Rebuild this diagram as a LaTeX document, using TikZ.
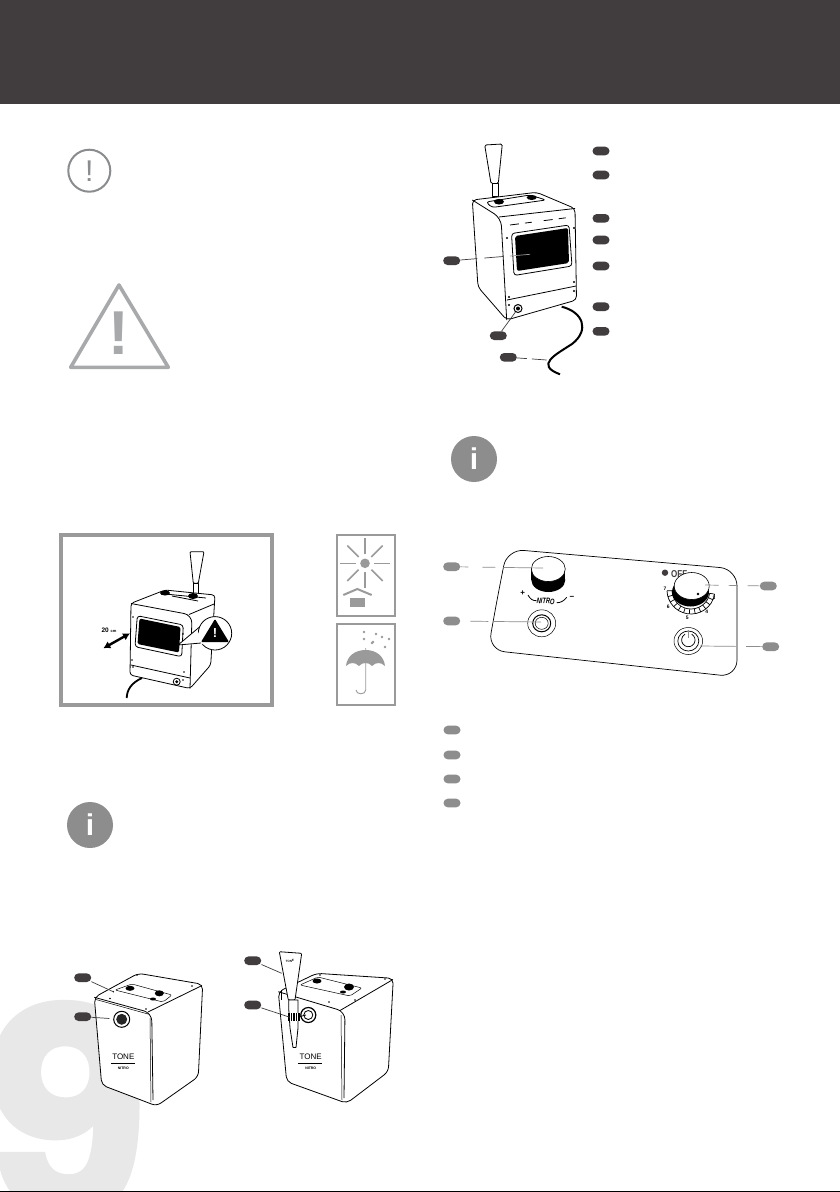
\documentclass[tikz,border=0pt]{standalone}
\usepackage{fontspec}
\usetikzlibrary{arrows.meta}
\setmainfont{Liberation Sans}
\newfontfamily\bigf{Poppins}[BoldFeatures={FakeBold=1.6}]
\definecolor{hdr}{HTML}{413D3E}
\definecolor{gbadge}{HTML}{8E8D8E}
\definecolor{ggray}{HTML}{9A9A9B}
\definecolor{tri}{HTML}{A7A9AB}
\definecolor{ring}{HTML}{8A8C8E}
\definecolor{nine}{HTML}{E8E8E9}
\tikzset{
 pill/.style={rounded corners=4.3pt,fill=#1,draw=none,minimum width=17pt,minimum height=8.6pt,inner sep=0pt},
 leader/.style={line width=.7pt,draw=#1},
 line/.style={line width=.8pt,line join=round,black},
 thin line/.style={line width=.5pt,black},
 lbl/.style={inner sep=0pt,font=\bfseries},
 scalenum/.style={inner sep=0pt,font=\bfseries\fontsize{5}{5}\selectfont}
}
\begin{document}
\begin{tikzpicture}[x=1pt,y=-1pt]
\useasboundingbox (0,0) rectangle (840,1192);
\fill[white] (0,0) rectangle (840,1192);
\fill[hdr] (0,0) rectangle (840,104);
% big page number
\begin{scope}
\clip (0,0) rectangle (840,1192);
\node[inner sep=0pt,anchor=center,text=nine,xscale=.97,font={\bigf\bfseries\fontsize{285}{285}\selectfont}] (pagenum) at (65,1109) {9};
\end{scope}
\fill[black] (0,1191) rectangle (840,1192);
% notice icon
\draw[ring,line width=2pt] (89.3,170.7) circle (21);
\node[text=ring,font=\fontsize{30}{30}\selectfont,inner sep=0pt] (ex1) at (89.3,171) {!};
% warning triangle
\draw[tri,line width=3.6pt,line join=round] (119,285) -- (168.3,367.3) -- (70.7,367.3) -- cycle;
\node[text=tri,font=\bfseries\fontsize{62}{62}\selectfont,inner sep=0pt] (ex2) at (119,333) {!};
% info icons
\foreach \n/\x/\y in {i1/90/825,i2/474/459}{
 \node[circle,fill=gbadge,minimum size=46pt,inner sep=0pt,text=white,font=\bfseries\fontsize{30}{30}\selectfont] (\n) at (\x,\y) {i};
}
% ---- top machine
\draw[line,fill=white,rounded corners=1.5pt] (484.7,145) -- (502.3,144) -- (498.3,183.5) -- (491,183.5) -- cycle;
\draw[line,fill=white] (492,183.5) rectangle (498,196);
\draw[line,fill=white,rounded corners=4pt] (472.3,200) -- (536.7,192.3) -- (575,208.5) -- (576.5,300) -- (506.7,320) -- (478,287) -- cycle;
\draw[line,rounded corners=8pt] (472.3,200) -- (501,218) -- (506.7,320);
\draw[line] (499,217) -- (575,208.5);
\draw[line,dash pattern=on 9pt off 6pt on 7pt off 12pt] (510,225) -- (576,216.5);
\draw[line,fill=white,rounded corners=3pt] (486,202) -- (530,195) -- (546,200) -- (492,207.5) -- cycle;
\fill (499,201.7) ellipse (5 and 2.8);
\fill (531.7,197.5) ellipse (5 and 2.5);
\draw[line,fill=white,rounded corners=3pt] (511.5,233.5) -- (569,225) -- (572,266) -- (514,275.5) -- cycle;
\fill[black,rounded corners=2pt] (515,236) -- (568,228) -- (569,263) -- (517,271) -- cycle;
\draw[line] (507,300) -- (576,286);
\foreach \p in {(507,238),(574,228),(574,282),(509,297),(574,291),(509,305)} \fill \p circle (1.2);
\node[circle,draw=black,line width=1pt,fill=white,minimum size=8pt,inner sep=0pt] (k1) at (518,308.5) {};
\fill[black] (k1) circle (2);
\coordinate (cableEnd) at (546.7,360);
\draw[line width=2pt] (561.7,306.7) .. controls (583,312) and (590,330) .. (572,344) .. controls (555,355) and (535,365) .. (560,374.3);
% top right badges
\foreach \n/\y in {a1/151,a2/175,a3/218.3,a4/240,a5/266,a6/306.7,a7/331.3}{
 \node[pill=hdr] (\n) at (601,\y) {};
}
\node[pill=hdr] (a8) at (451.7,260.7) {};
\node[pill=hdr] (a9) at (498.3,335.7) {};
\node[pill=hdr] (a10) at (508.3,357.3) {};
\coordinate (ta8) at (530,254.3);
\coordinate (ta8b) at (510,256);
\draw[leader=hdr,dash pattern=on 17pt off 7pt on 19pt off 30pt] (a8) -- (ta8);
\draw[leader=ggray] (ta8b) -- (ta8);
\draw[leader=hdr] (a9) -- (k1);
\draw[leader=hdr,dash pattern=on 10pt off 5pt on 20pt] (a10) -- (cableEnd);
% ---- control panel
\draw[line width=.7pt,rounded corners=17pt] (497,600) -- (507,549) -- (737,569) -- (737,677) -- (488,650) -- cycle;
% nitro knob
\fill[black] (548.3,580) ellipse (17 and 12);
\fill[black] (531.3,569) rectangle (565.3,580);
\draw[line width=.6pt,fill=white] (548.3,569) ellipse (17 and 12.5);
\node[lbl,font=\bfseries\fontsize{8}{8}\selectfont] (plus) at (522.7,593.3) {+};
\node[lbl,font=\bfseries\itshape\fontsize{8}{8}\selectfont,rotate=-4,xscale=.72] (nitro) at (545.7,601) {NITRO};
\node[lbl,font=\bfseries\fontsize{8}{8}\selectfont] (minus) at (572,598) {−};
\draw[line] (528,595) .. controls (530,599) and (533,601) .. (536.7,600.7);
\draw[line] (556.7,602.7) .. controls (560,603) and (564,601) .. (566.7,597.3);
% left button
\draw[line width=.5pt] (541.7,623.3) ellipse (14 and 13.5);
\draw[line width=1pt,fill=white] (541.7,623.3) ellipse (9 and 8.5);
\draw[line width=.5pt] (541.7,623.3) ellipse (6.5 and 6);
% temperature knob scale
\foreach \a in {10,24,...,178}{
 \draw[line width=.7pt] (691,590) ++(\a:19) -- ++(\a:5);
}
\draw[line width=.7pt] (691,590) ++(10:24) arc[start angle=10,end angle=178,radius=24];
\draw[line width=.7pt] (691,590) ++(10:19) arc[start angle=10,end angle=178,radius=19];
\fill[black] (690.5,592) ellipse (18.5 and 14.5);
\node[scalenum] (n7) at (665,589) {7};
\node[scalenum] (n6) at (668.3,607) {6};
\node[scalenum] (n5) at (687.3,617.3) {5};
\node[scalenum] (n4) at (706.7,611.7) {4};
\node[scalenum] (n3) at (714,597.3) {3};
\fill[hdr] (665,572.7) circle (3.2);
\node[lbl,font=\bfseries\fontsize{10}{10}\selectfont,text=hdr,anchor=west,xscale=.8] (off) at (671,574.3) {OFF};
\draw[line width=.6pt,fill=white] (691.7,586) ellipse (17.5 and 13.5);
\fill[black] (698,594) circle (1.4);
% power button
\draw[line width=.5pt] (688.3,641) ellipse (14.3 and 13.5);
\draw[line width=.7pt] (688.3,641) ellipse (10.5 and 10);
\draw[line width=.7pt] (691.7,634.2) arc[start angle=300,end angle=600,radius=6.7];
\draw[line width=1.1pt,gbadge] (688.3,630) -- (688.3,638);
% panel badges
\node[pill=gbadge] (c1) at (451.7,566.7) {};
\node[pill=gbadge] (c2) at (451.7,621) {};
\node[pill=gbadge] (c3) at (768.3,586) {};
\node[pill=gbadge] (c4) at (770.7,646.7) {};
\coordinate (tc1) at (543,568);
\coordinate (tc2) at (541,622);
\coordinate (tc3) at (705,585);
\coordinate (tc4) at (700,646);
\draw[leader=gbadge,dash pattern=on 8pt off 14pt on 13pt off 8pt on 50pt] (c1) -- (tc1);
\draw[leader=gbadge,dash pattern=on 0pt off 10pt on 18pt off 5pt on 50pt] (c2) -- (tc2);
\draw[leader=gbadge,dash pattern=on 12pt off 10pt on 9pt off 10pt on 20pt] (c3) -- (tc3);
\draw[leader=gbadge,dash pattern=on 16pt off 10pt on 40pt] (c4) -- (tc4);
\foreach \n/\y in {l1/730,l2/755,l3/779,l4/803}{
 \node[pill=gbadge] (\n) at (452,\y) {};
}
% ---- install frame
\draw[ggray,line width=4pt] (61,535) rectangle (272,705);
\draw[line,fill=white,rounded corners=1pt] (190,551.7) -- (204,551.7) -- (198.3,583.3) -- (193.3,583.3) -- cycle;
\draw[line,fill=white] (193.5,583.3) rectangle (198,593);
\draw[line,fill=white,rounded corners=3pt] (131,603.3) -- (165,590) -- (215,595) -- (210.7,665) -- (190,688.5) -- (130,675) -- cycle;
\draw[line,rounded corners=8pt] (131,603.5) -- (192,615) -- (190,688.5);
\draw[line] (189,614.5) -- (214,604);
\draw[line] (165,594) -- (206,598);
\draw[line] (172,596) -- (198,601);
\fill (165,593) ellipse (5 and 2.5);
\fill (193,596) ellipse (5 and 3);
\draw[line,fill=white,rounded corners=3pt] (137.3,615.7) -- (183.3,625) -- (181.7,656.7) -- (135,646.7) -- cycle;
\fill[black,rounded corners=1.5pt] (139.5,618.5) -- (180.5,627) -- (179,652.5) -- (137.5,644) -- cycle;
\draw[line] (131,665) -- (190,678);
\foreach \p in {(133,617),(183,634),(132,660),(133,667),(184,672),(183,680)} \fill \p circle (.8);
\draw[line width=1.8pt] (142,678) .. controls (131,683) and (127,690) .. (126.7,698);
\node[circle,draw=black,line width=.8pt,minimum size=7pt,inner sep=0pt] (k2) at (176.7,681.7) {};
\fill[black] (k2) circle (1.6);
% callout
\draw[line width=.8pt,fill=white] (215,633.3) circle (16.7);
\fill[white] (197,629) -- (178,645) -- (203,644) -- cycle;
\draw[line width=.8pt] (199.5,627) -- (178,645) -- (201,643);
\fill[black,rounded corners=1pt] (215,619) -- (229,642) -- (201,642) -- cycle;
\node[text=white,lbl,font=\bfseries\fontsize{13}{13}\selectfont] (ex3) at (215,633) {!};
% distance arrow
\coordinate (da) at (103.3,648.3);
\coordinate (db) at (130,633.3);
\draw[black,line width=2.4pt,{Latex[length=7pt,width=8pt]}-{Latex[length=7pt,width=8pt]}] (da) -- (db);
\node[lbl,font=\bfseries\fontsize{6.5}{6.5}\selectfont] (dist) at (109,630.7) {20 \fontsize{4}{4}\selectfont cm};
% sun icon
\draw[ggray,line width=2pt] (337,535) rectangle (395,615.7);
\fill[ggray] (365,563.3) circle (4.8);
\foreach \a in {0,45,...,315}{
 \draw[ggray,line width=1.6pt] (365,563.3) ++(\a:9) -- ++(\a:16);
}
\draw[ggray,line width=2pt] (343.3,595) -- (357.3,589) -- (371.7,595);
\fill[ggray] (350,597.7) rectangle (365,606.7);
% umbrella icon
\draw[ggray,line width=2pt] (337,623.5) rectangle (395,705);
\fill[ggray] (346,666) .. controls (347,656) and (355,650) .. (365.7,650) .. controls (376,650) and (384,656) .. (385,666) .. controls (381,662) and (376,662) .. (372,666) .. controls (369,662) and (362,662) .. (359,666) .. controls (355,662) and (350,662) .. (346,666) -- cycle;
\draw[ggray,line width=.9pt] (365.7,648) -- (365.7,690) .. controls (365.7,695) and (356,695) .. (356,690);
\foreach \p in {(364,639),(372,643),(376,634),(382,637),(373,642),(364,632),(389,639),(385,647)} \fill[ggray] \p circle (1.3);
% ---- lower left machine
\draw[line,fill=white,rounded corners=5pt] (94.3,997.3) -- (138.3,973.3) -- (202.7,984.3) -- (198.3,1076.7) -- (156.7,1106) -- (101.7,1085) -- cycle;
\draw[line,rounded corners=8pt] (94.3,997.3) -- (151.7,1013) -- (153,1100);
\draw[line] (148,1012) -- (202,985.5);
\draw[thin line] (96,999.5) -- (148,1014);
\draw[thin line] (150,1018) -- (151,1102);
\draw[thin line,rounded corners=2pt] (115,990) -- (132,984) -- (172,995) -- (163,1002) -- cycle;
\fill (130,988.3) ellipse (4.5 and 2.5);
\fill (159.3,993.3) ellipse (4.5 and 3);
\fill (153,999) ellipse (3 and 1.5);
\foreach \p in {(113.3,991.7),(110,998.5),(137,975),(192,986),(146,1009)} \fill \p circle (.8);
\node[circle,draw=black,line width=1pt,minimum size=16pt,inner sep=0pt,fill=white] (h1) at (121.7,1019.3) {};
\fill[black!85] (h1) circle (5.5);
\node[inner sep=0pt,font=\fontsize{8}{8}\selectfont] (tone1) at (123.3,1057) {TONE};
\node[inner sep=0pt,font=\bfseries\fontsize{3.5}{3.5}\selectfont] (nit1) at (123.3,1068) {NITRO};
\draw[thin line] (111,1063) -- (135,1063);
\node[pill=hdr] (d1) at (82.7,977.7) {};
\node[pill=hdr] (d2) at (82.7,1016.7) {};
\coordinate (td1) at (113.3,991.7);
\draw[leader=hdr] (d1) -- (td1);
\draw[leader=hdr,dash pattern=on 18pt off 6pt on 20pt] (d2) -- (h1);
% ---- lower right machine
\draw[line,fill=white,rounded corners=5pt] (278.3,991.7) -- (316.7,973.3) -- (393.3,978.3) -- (388.3,1071.7) -- (346.7,1103.3) -- (286.7,1081.7) -- cycle;
\draw[line,rounded corners=8pt] (278.3,991.7) -- (345,1011.7) -- (344,1098);
\draw[line] (340,1010.5) -- (393,979.5);
\draw[thin line] (341,1015) -- (342,1100);
\draw[thin line,rounded corners=2pt] (300,985) -- (318,977) -- (362,988) -- (350,996) -- cycle;
\fill (317,981) ellipse (4.5 and 2.5);
\fill (349,987) ellipse (5 and 3.5);
\fill (343,992) ellipse (3 and 1.5);
\foreach \p in {(320,975),(385,979),(329,1002),(355,1000)} \fill \p circle (.8);
\node[circle,draw=black,line width=1.2pt,minimum size=15pt,inner sep=0pt,fill=white] (h2) at (308.3,1015) {};
\draw[line] (h2) circle (4.5);
\draw[line,fill=white,rounded corners=1pt] (279.3,951.7) -- (301.7,953.3) -- (295,1000) -- (288.3,1000) -- cycle;
\draw[line,fill=white] (288.8,1000) -- (288.8,1010) -- (290,1028) -- (293,1047.5) -- (296,1047.5) -- (298,1028) -- (298,1000) -- cycle;
\draw[line] (298,1017) -- (306,1015);
\fill[black] (288,1013) rectangle (299.5,1021);
\foreach \x in {290,292.5,295,297.5}{\draw[white,line width=.5pt] (\x,1013) -- (\x,1021);}
\draw[line] (281,990) -- (281,1000);
\node[inner sep=0pt,font=\bfseries\fontsize{3}{3}\selectfont,rotate=5] (tone0) at (290,961) {TONE};
\node[inner sep=0pt,font=\fontsize{8}{8}\selectfont] (tone2) at (310.7,1057) {TONE};
\node[inner sep=0pt,font=\bfseries\fontsize{3.5}{3.5}\selectfont] (nit2) at (310.7,1068) {NITRO};
\draw[thin line] (298,1063) -- (322,1063);
\node[pill=hdr] (e1) at (252.7,960.7) {};
\node[pill=hdr] (e2) at (252.7,1005) {};
\coordinate (te1) at (281.7,973.3);
\coordinate (te2) at (290,1017.3);
\draw[leader=hdr] (e1) -- (te1);
\draw[leader=hdr] (e2) -- (te2);
\end{tikzpicture}
\end{document}
